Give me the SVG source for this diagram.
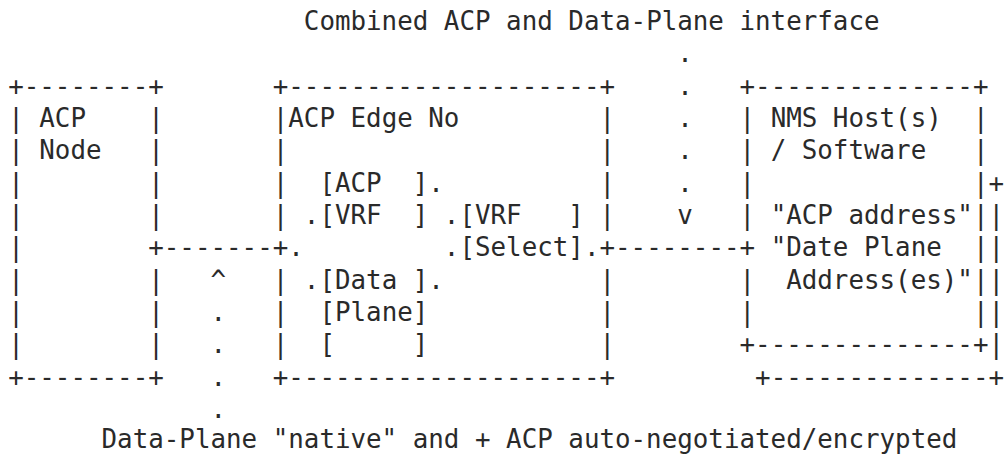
<svg xmlns="http://www.w3.org/2000/svg" width="1004" height="454" viewBox="0 0 1004 454" xml:space="preserve">
<style>
text { font-family: "DejaVu Sans Mono", "Liberation Mono", monospace; font-size: 25.85px; fill: #2a2a2a; white-space: pre; }
</style>
<rect width="1004" height="454" fill="#ffffff"/>
<g id="title">
<text x="303.84" y="30">Combined ACP and Data-Plane interface</text>
</g>
<g id="acp-node">
<text x="8.2" y="94.67">+--------+</text>
<text x="8.2" y="127">| ACP    |</text>
<text x="8.2" y="159.33">| Node   |</text>
<text x="8.2" y="191.67">|        |</text>
<text x="8.2" y="224">|        |</text>
<text x="8.2" y="256.33">|        +</text>
<text x="8.2" y="288.67">|        |</text>
<text x="8.2" y="321">|        |</text>
<text x="8.2" y="353.33">|        |</text>
<text x="8.2" y="385.67">+--------+</text>
</g>
<g id="acp-edge-node">
<text x="272.72" y="94.67">+--------------------+</text>
<text x="272.72" y="127">|ACP Edge No         |</text>
<text x="272.72" y="159.33">|                    |</text>
<text x="272.72" y="191.67">|  [ACP  ].          |</text>
<text x="272.72" y="224">| .[VRF  ] .[VRF   ] |</text>
<text x="272.72" y="256.33">+.         .[Select].+</text>
<text x="272.72" y="288.67">| .[Data ].          |</text>
<text x="272.72" y="321">|  [Plane]           |</text>
<text x="272.72" y="353.33">|  [     ]           |</text>
<text x="272.72" y="385.67">+--------------------+</text>
</g>
<g id="nms-host">
<text x="739.52" y="94.67">+--------------+</text>
<text x="739.52" y="127">| NMS Host(s)  |</text>
<text x="739.52" y="159.33">| / Software   |</text>
<text x="739.52" y="191.67">|              |+</text>
<text x="739.52" y="224">| "ACP address"||</text>
<text x="739.52" y="256.33">+ "Date Plane  ||</text>
<text x="739.52" y="288.67">|  Address(es)"||</text>
<text x="739.52" y="321">|              ||</text>
<text x="739.52" y="353.33">+--------------+|</text>
<text x="755.08" y="385.67">+--------------+</text>
</g>
<g id="connectors">
<text x="677.28" y="62.33">.</text>
<text x="677.28" y="94.67">.</text>
<text x="677.28" y="127">.</text>
<text x="677.28" y="159.33">.</text>
<text x="677.28" y="191.67">.</text>
<text x="677.28" y="224">v</text>
<text x="163.8" y="256.33">-------</text>
<text x="615.04" y="256.33">--------</text>
<text x="210.48" y="288.67">^</text>
<text x="210.48" y="321">.</text>
<text x="210.48" y="353.33">.</text>
<text x="210.48" y="385.67">.</text>
<text x="210.48" y="418">.</text>
</g>
<g id="caption">
<text x="101.56" y="447.5">Data-Plane "native" and + ACP auto-negotiated/encrypted</text>
</g>
</svg>
